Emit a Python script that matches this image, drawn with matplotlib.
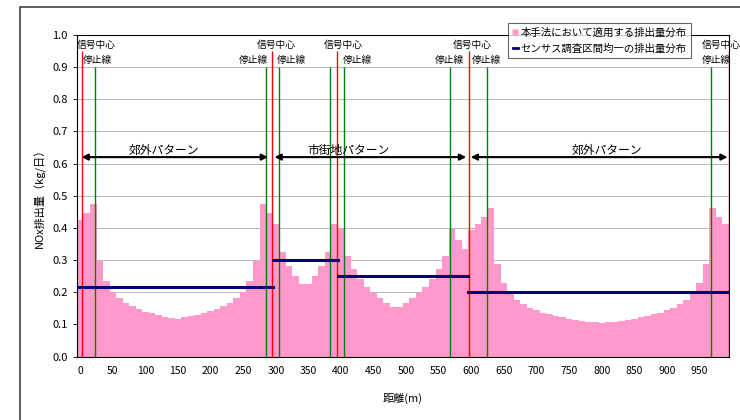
import numpy as np
import matplotlib
matplotlib.use("Agg")
import matplotlib.pyplot as plt
from matplotlib.lines import Line2D
from matplotlib.patches import Rectangle

plt.rcParams['font.family'] = ['Noto Sans CJK JP', 'DejaVu Sans']

# Data: emission per 10 m section (kg/day)
distance = np.arange(0, 1000, 10)
emission = [
    0.424, 0.447, 0.475, 0.296, 0.234, 0.202, 0.183, 0.168, 0.157, 0.147,
    0.140, 0.135, 0.129, 0.124, 0.120, 0.117, 0.122, 0.126, 0.130, 0.137,
    0.142, 0.149, 0.158, 0.168, 0.183, 0.202, 0.234, 0.296, 0.475, 0.447,
    0.412, 0.325, 0.282, 0.251, 0.227, 0.227, 0.251, 0.282, 0.325, 0.412,
    0.397, 0.313, 0.271, 0.242, 0.216, 0.199, 0.183, 0.168, 0.155, 0.155,
    0.168, 0.183, 0.199, 0.216, 0.242, 0.271, 0.313, 0.397, 0.362, 0.334,
    0.393, 0.412, 0.434, 0.461, 0.287, 0.228, 0.200, 0.176, 0.163, 0.152,
    0.144, 0.137, 0.132, 0.126, 0.122, 0.117, 0.114, 0.111, 0.109, 0.106,
    0.104, 0.106, 0.109, 0.111, 0.114, 0.117, 0.122, 0.126, 0.132, 0.137,
    0.144, 0.152, 0.163, 0.176, 0.200, 0.228, 0.287, 0.461, 0.434, 0.412,
]

# census uniform distribution per section
seg_start = [0, 300, 400, 600]
seg_end = [300, 400, 600, 1000]
seg_value = [0.216, 0.300, 0.250, 0.200]

# signal centres and stop lines (m)
signal_x = [7, 299, 399, 601, 1000]
stop_x = [28, 290, 310, 388, 410, 572, 629, 972]

signal_label_x = [29, 306, 409, 606, 989]
stop_label_x = [31, 270, 329, 431, 571, 628, 981]

# pattern ranges
pattern_names = ['郊外パターン', '市街地パターン', '郊外パターン']
pattern_from = [7, 303, 604]
pattern_to = [293, 597, 998]
pattern_label_x = [134, 416, 813]

tick_vals = list(range(0, 1000, 50))

fig = plt.figure(figsize=(7.4, 4.2), dpi=100)
ax = fig.add_axes([0.104, 0.151, 0.881, 0.766])

ax.bar(distance + 5, emission, width=10, color='#FF99CC', zorder=2)

for s, e, v in zip(seg_start, seg_end, seg_value):
    ax.plot([s, e], [v, v], color='#000080', lw=2.2, zorder=4)

ax.vlines(signal_x, 0, 0.95, color='#FF0000', lw=1, zorder=3)
ax.vlines(stop_x, 0, 0.90, color='#008000', lw=1, zorder=3)

for x in signal_label_x:
    ax.text(x, 0.968, '信号中心', ha='center', va='center', fontsize=7, clip_on=False)
for x in stop_label_x:
    ax.text(x, 0.921, '停止線', ha='center', va='center', fontsize=7, clip_on=False)

for name, a, b, lx in zip(pattern_names, pattern_from, pattern_to, pattern_label_x):
    ax.annotate('', xy=(b, 0.62), xytext=(a, 0.62),
                arrowprops=dict(arrowstyle='<|-|>', color='black', lw=1.5,
                                mutation_scale=9, shrinkA=0, shrinkB=0),
                zorder=5)
    ax.text(lx, 0.642, name, ha='center', va='center', fontsize=8.5)

ax.set_xlim(0, 1000)
ax.set_ylim(0, 1.0)
ax.set_xticks([t + 5 for t in tick_vals])
ax.set_xticklabels([str(t) for t in tick_vals], fontsize=7.5)
ax.set_xticks(np.arange(0, 1001, 10), minor=True)
ax.tick_params(axis='x', which='major', length=0, pad=7)
ax.tick_params(axis='x', which='minor', direction='in', length=3, width=0.6)
ax.set_yticks(np.arange(0, 1.01, 0.1))
ax.set_yticklabels(['%.1f' % v for v in np.arange(0, 1.01, 0.1)], fontsize=8)
ax.tick_params(axis='y', direction='out', length=3, width=0.6)
ax.grid(axis='y', color='#B4B4B4', lw=0.7, zorder=0)
ax.set_axisbelow(True)
for sp in ax.spines.values():
    sp.set_color('black')
    sp.set_linewidth(0.8)

ax.set_xlabel('距離(m)', fontsize=8, labelpad=12)
ax.set_ylabel('NOx排出量（kg/日）', fontsize=8, labelpad=5)

handles = [
    Line2D([], [], marker='s', color='none', markerfacecolor='#FF99CC',
           markeredgecolor='none', markersize=5),
    Line2D([], [], color='#000080', lw=2),
]
labels = ['本手法において適用する排出量分布', 'センサス調査区間均一の排出量分布']
leg = fig.legend(handles, labels, loc='upper left', bbox_to_anchor=(0.68, 0.957),
                 fontsize=7.5, frameon=True, fancybox=False, handlelength=0.5,
                 handletextpad=0.3, borderpad=0.4, labelspacing=0.6)
leg.get_frame().set_edgecolor('#404040')
leg.get_frame().set_linewidth(0.8)

# outer chart frame
fig.patches.append(Rectangle((20 / 740, -0.02), 1.0, 1 - 7 / 420 + 0.02,
                             transform=fig.transFigure, fill=False,
                             edgecolor='#404040', lw=1.2))

fig.savefig('out.png', dpi=100)
